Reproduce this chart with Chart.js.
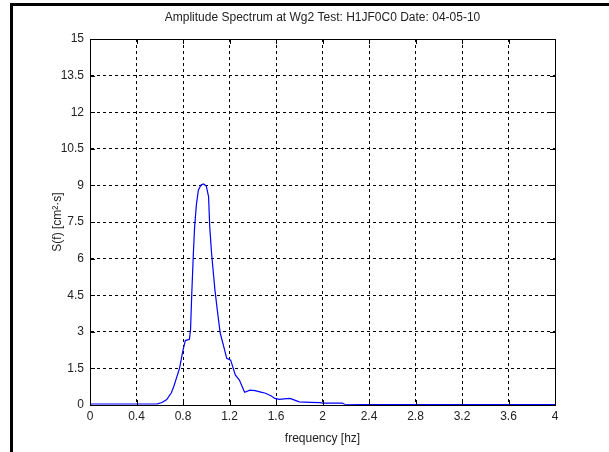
<!DOCTYPE html>
<html>
<head>
<meta charset="utf-8">
<script src="https://cdn.jsdelivr.net/npm/chart.js@4"></script>
<style>
  html, body { margin: 0; padding: 0; background: #fff; }
  #wrap { position: relative; width: 609px; height: 452px; }
  #frame { position: absolute; left: 10px; top: 3px; width: 599px; height: 449px;
           border-top: 3px solid #000; border-left: 3px solid #000; box-sizing: border-box; pointer-events: none; }
  canvas { position: absolute; left: 0; top: 0; }
</style>
</head>
<body>
<div id="wrap">
  <canvas id="spectrum" width="609" height="452"></canvas>
  <div id="frame"></div>
</div>
<script>
// frequency [hz] and spectral density S(f)
const freq = [0, 0.1, 0.2, 0.3, 0.4, 0.5, 0.58, 0.62, 0.66, 0.70, 0.72, 0.77, 0.80, 0.82, 0.855, 0.865,
  0.875, 0.889, 0.90, 0.915, 0.932, 0.955, 0.975, 1.0, 1.02, 1.03, 1.046, 1.075, 1.095, 1.12, 1.15, 1.176,
  1.21, 1.25, 1.285, 1.33, 1.376, 1.42, 1.47, 1.51, 1.56, 1.59, 1.63, 1.67, 1.72, 1.76, 1.80, 1.90, 1.98,
  2.0, 2.17, 2.19, 2.5, 3.0, 3.5, 4.0];
const density = [0.04, 0.04, 0.04, 0.04, 0.04, 0.04, 0.05, 0.1, 0.22, 0.5, 0.75, 1.5, 2.25, 2.64, 2.69, 3.1,
  4.5, 6.2, 7.3, 8.2, 8.8, 9.02, 9.06, 8.98, 8.54, 7.3, 6.2, 4.7, 3.9, 2.95, 2.4, 1.91,
  1.84, 1.23, 1.02, 0.52, 0.61, 0.59, 0.53, 0.48, 0.37, 0.27, 0.23, 0.25, 0.27, 0.2, 0.13, 0.11, 0.1,
  0.08, 0.08, 0.03, 0.02, 0.02, 0.02, 0.02];

const xTicks = [0, 0.4, 0.8, 1.2, 1.6, 2, 2.4, 2.8, 3.2, 3.6, 4];
const yTicks = [0, 1.5, 3, 4.5, 6, 7.5, 9, 10.5, 12, 13.5, 15];
const chartTitle = "Amplitude Spectrum at Wg2 Test: H1JF0C0 Date: 04-05-10";

const points = freq.map((f, i) => ({ x: f, y: density[i] }));
const font = { family: "Arial, 'Liberation Sans', sans-serif", size: 12 };
const ink = "#222";

// solid box round the plot area, short inward tick marks, title centred over the axes
const boxPlugin = {
  id: "box",
  afterDraw(chart) {
    const { ctx, chartArea: a, scales } = chart;
    ctx.save();
    ctx.strokeStyle = "#000";
    ctx.lineWidth = 1;
    ctx.setLineDash([]);
    ctx.beginPath();
    xTicks.forEach((t) => {
      const px = Math.round(scales.x.getPixelForValue(t)) + 0.5;
      ctx.moveTo(px, a.bottom); ctx.lineTo(px, a.bottom - 5);
      ctx.moveTo(px, a.top); ctx.lineTo(px, a.top + 5);
    });
    yTicks.forEach((t) => {
      const py = Math.round(scales.y.getPixelForValue(t)) + 0.5;
      ctx.moveTo(a.left, py); ctx.lineTo(a.left + 5, py);
      ctx.moveTo(a.right, py); ctx.lineTo(a.right - 5, py);
    });
    ctx.stroke();
    ctx.strokeRect(Math.round(a.left) + 0.5, Math.round(a.top) + 0.5,
      Math.round(a.right - a.left), Math.round(a.bottom - a.top));

    ctx.fillStyle = ink;
    ctx.font = "12px " + font.family;
    ctx.textAlign = "center";
    ctx.textBaseline = "middle";
    ctx.fillText(chartTitle, (a.left + a.right) / 2, 18);
    ctx.restore();
  }
};

new Chart(document.getElementById("spectrum").getContext("2d"), {
  type: "line",
  data: {
    datasets: [{
      data: points,
      borderColor: "#0000ff",
      borderWidth: 1.2,
      pointRadius: 0,
      tension: 0,
      fill: false
    }]
  },
  options: {
    responsive: false,
    animation: false,
    layout: { padding: { left: 0, right: 54, top: 39, bottom: 0 } },
    plugins: {
      legend: { display: false },
      tooltip: { enabled: false },
      title: { display: false }
    },
    scales: {
      x: {
        type: "linear",
        min: 0,
        max: 4,
        afterBuildTicks(scale) { scale.ticks = xTicks.map((v) => ({ value: v })); },
        afterFit(scale) { scale.height = 47; },
        ticks: {
          color: ink, font, padding: 4, maxRotation: 0,
          callback: (v) => String(Number(v.toFixed(1)))
        },
        grid: { color: "#000", lineWidth: 1, drawTicks: false },
        border: { display: true, color: "#000", dash: [3, 3] },
        title: { display: true, text: "frequency [hz]", color: ink, font, padding: { top: 4, bottom: 6 } }
      },
      y: {
        type: "linear",
        min: 0,
        max: 15,
        afterBuildTicks(scale) { scale.ticks = yTicks.map((v) => ({ value: v })); },
        afterFit(scale) { scale.width = 90; },
        ticks: {
          color: ink, font, padding: 6,
          callback: (v) => String(Number(v.toFixed(1)))
        },
        grid: { color: "#000", lineWidth: 1, drawTicks: false },
        border: { display: true, color: "#000", dash: [3, 3] },
        title: { display: true, text: "S(f) [cm²·s]", color: ink, font, padding: { top: 50, bottom: 0 } }
      }
    }
  },
  plugins: [boxPlugin]
});
</script>
</body>
</html>
